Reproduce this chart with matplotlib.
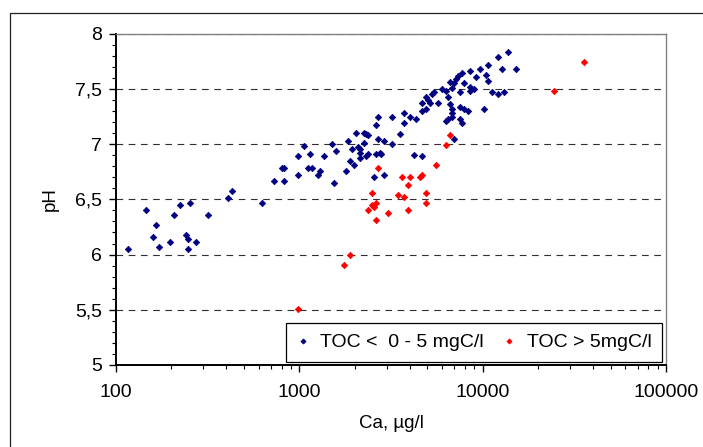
import matplotlib
matplotlib.use('Agg')
import matplotlib.pyplot as plt
from matplotlib.ticker import MultipleLocator, LogLocator, FixedLocator, FixedFormatter, NullFormatter
from matplotlib.patches import Rectangle

plt.rcParams['font.family'] = ['Liberation Sans', 'DejaVu Sans']

# TOC < 0 - 5 mgC/l
ca_low = [116, 146, 165, 160, 172, 197, 206, 223, 252, 240, 246, 246, 272, 316, 407, 428, 624, 725, 822,
          2677, 3192, 2612, 2031, 2263, 2320, 2361, 3530, 1837, 2677, 2887, 1503, 2246, 1057, 3192, 1932,
          1580, 2083, 2152, 2136, 2361, 2303, 2612, 2745, 2780, 1139, 980, 1359, 2136, 1881, 1981, 802,
          822, 1111, 1168, 1292, 1791, 980, 1260, 1541, 2546, 2887,
          13710, 12090, 10660, 9643, 12710, 15160, 8506, 7691, 7314, 10390, 9169, 10660, 7133, 7886, 6615,
          6956, 6784, 5983, 6290, 8506, 8943, 8506, 7500, 5410, 5276, 6450, 4893, 5017, 5145, 4654, 5690,
          11210, 12090, 13030, 6615, 6784, 7500, 7886, 8295, 10140, 4893, 4654, 6784, 3711, 4003, 4316,
          3711, 6784, 6450, 6290, 7500, 7691, 6956, 4209, 4654]
ph_low = [6.05, 6.40, 6.27, 6.16, 6.07, 6.11, 6.36, 6.45, 6.47, 6.18, 6.14, 6.05, 6.11, 6.36, 6.51, 6.58, 6.47, 6.67, 6.67,
          7.25, 7.25, 7.17, 7.10, 7.10, 7.09, 7.08, 7.09, 7.03, 7.05, 7.03, 7.00, 7.01, 6.98, 7.00, 6.96,
          6.94, 6.97, 6.96, 6.92, 6.91, 6.89, 6.91, 6.92, 6.91, 6.91, 6.89, 6.89, 6.87, 6.85, 6.81, 6.78,
          6.78, 6.78, 6.78, 6.76, 6.76, 6.72, 6.72, 6.65, 6.70, 6.72,
          7.83, 7.79, 7.72, 7.68, 7.68, 7.68, 7.66, 7.64, 7.62, 7.63, 7.61, 7.57, 7.59, 7.55, 7.56,
          7.55, 7.51, 7.50, 7.48, 7.52, 7.50, 7.48, 7.47, 7.47, 7.45, 7.43, 7.43, 7.40, 7.37, 7.37,
          7.37, 7.47, 7.45, 7.47, 7.36, 7.32, 7.34, 7.32, 7.30, 7.32, 7.32, 7.30, 7.28, 7.28, 7.25,
          7.23, 7.19, 7.25, 7.23, 7.21, 7.23, 7.19, 7.05, 6.90, 6.89]

# TOC > 5mgC/l
ca_high = [6615, 6290, 5549, 2677, 3619, 4003, 4540, 4654, 3903, 2483, 3443, 3711, 4893, 4893, 2483,
           2612, 2546, 2361, 3037, 3903, 2612, 1881, 1747, 980, 35600, 24520]
ph_high = [7.08, 6.99, 6.81, 6.78, 6.70, 6.70, 6.70, 6.72, 6.63, 6.56, 6.54, 6.52, 6.56, 6.47, 6.45,
           6.47, 6.43, 6.40, 6.38, 6.40, 6.31, 6.00, 5.91, 5.51, 7.74, 7.48]

labels = ['TOC <  0 - 5 mgC/l', 'TOC > 5mgC/l']
xticks = [100, 1000, 10000, 100000]
xticklabels = ['100', '1000', '10000', '100000']
yticks = [5, 5.5, 6, 6.5, 7, 7.5, 8]
yticklabels = ['5', '5,5', '6', '6,5', '7', '7,5', '8']

fig = plt.figure(figsize=(7.03, 4.47), dpi=100)
ax = fig.add_axes([116 / 703, 1 - 365 / 447, 550 / 703, (365 - 33.7) / 447])

# outer chart frame (cut off at right/bottom)
fig.patches.append(Rectangle((10 / 703, -0.1), 1.2, 1.1 - 13 / 447, transform=fig.transFigure,
                             fill=False, edgecolor='#202020', linewidth=0.9))

ax.plot(ca_low, ph_low, linestyle='none', marker='D', markersize=3.3, color='#000080',
        markeredgewidth=0.5, label=labels[0], zorder=3)
ax.plot(ca_high, ph_high, linestyle='none', marker='D', markersize=3.3, color='#ff0000',
        markeredgewidth=0.5, label=labels[1], zorder=3)

ax.set_xscale('log')
ax.set_xlim(100, 100000)
ax.set_ylim(5, 8)

ax.xaxis.set_major_locator(FixedLocator(xticks))
ax.xaxis.set_major_formatter(FixedFormatter(xticklabels))
ax.xaxis.set_minor_locator(LogLocator(base=10, subs=range(2, 10)))
ax.xaxis.set_minor_formatter(NullFormatter())
ax.yaxis.set_major_locator(FixedLocator(yticks))
ax.yaxis.set_major_formatter(FixedFormatter(yticklabels))
ax.yaxis.set_minor_locator(MultipleLocator(0.1))

ax.tick_params(which='major', direction='out', length=5, width=1, labelsize=14, color='black')
ax.tick_params(which='minor', direction='out', length=3, width=0.8, color='black')
ax.tick_params(axis='x', which='major', pad=9)
ax.tick_params(axis='y', which='major', pad=5)

for y in yticks[1:]:
    ax.axhline(y, color='#303030', linewidth=0.8, linestyle=(0, (6, 5)), zorder=1)

ax.spines['left'].set_linewidth(1.4)
ax.spines['bottom'].set_linewidth(1.4)
ax.spines['top'].set_color('#808080')
ax.spines['right'].set_color('#808080')
ax.spines['top'].set_linewidth(1.0)
ax.spines['right'].set_linewidth(1.0)

ax.set_xlabel('Ca, µg/l', fontsize=13.5, labelpad=10)
ax.set_ylabel('pH', fontsize=13.5, labelpad=12)

leg = ax.legend(loc='lower right', bbox_to_anchor=(0.993, 0.009), ncol=2, fontsize=14,
                fancybox=False, framealpha=1, edgecolor='black', markerscale=0.8,
                handlelength=0.6, handletextpad=0.6, columnspacing=1.0, borderpad=0.55,
                borderaxespad=0)
leg.get_frame().set_linewidth(0.9)

fig.savefig('out.png', dpi=100)
